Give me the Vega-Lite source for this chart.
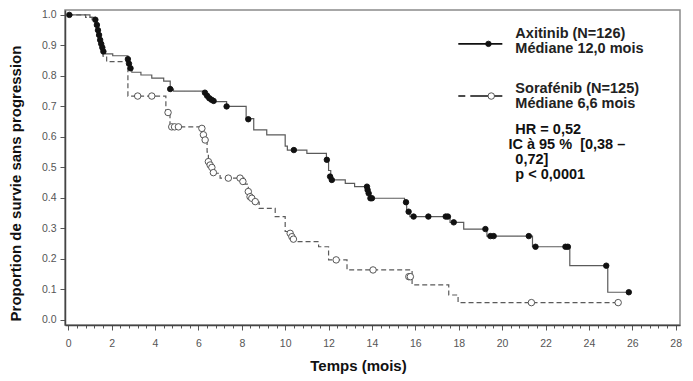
{
  "$schema": "https://vega.github.io/schema/vega-lite/v6.json",
  "width": 615,
  "height": 315,
  "autosize": {"type": "none"},
  "padding": {"left": 65, "top": 10, "right": 13, "bottom": 56},
  "background": "white",
  "config": {"view": {"stroke": "#8a8a8a", "strokeWidth": 1.5}, "font": "Liberation Sans"},
  "resolve": {"axis": {"x": "independent", "y": "independent"}},
  "datasets": {
    "steps": [
      {"group": "Axitinib", "t": 0, "s": 1.0},
      {"group": "Axitinib", "t": 1.0, "s": 0.992},
      {"group": "Axitinib", "t": 1.25, "s": 0.984},
      {"group": "Axitinib", "t": 1.3, "s": 0.967},
      {"group": "Axitinib", "t": 1.37, "s": 0.95},
      {"group": "Axitinib", "t": 1.42, "s": 0.934},
      {"group": "Axitinib", "t": 1.47, "s": 0.918},
      {"group": "Axitinib", "t": 1.52, "s": 0.905},
      {"group": "Axitinib", "t": 1.57, "s": 0.893},
      {"group": "Axitinib", "t": 1.62, "s": 0.88},
      {"group": "Axitinib", "t": 1.7, "s": 0.872},
      {"group": "Axitinib", "t": 2.05, "s": 0.866},
      {"group": "Axitinib", "t": 2.75, "s": 0.855},
      {"group": "Axitinib", "t": 2.8, "s": 0.84},
      {"group": "Axitinib", "t": 2.87, "s": 0.825},
      {"group": "Axitinib", "t": 2.93, "s": 0.812},
      {"group": "Axitinib", "t": 3.35, "s": 0.803},
      {"group": "Axitinib", "t": 3.85, "s": 0.793},
      {"group": "Axitinib", "t": 4.4, "s": 0.783},
      {"group": "Axitinib", "t": 4.7, "s": 0.757},
      {"group": "Axitinib", "t": 4.85, "s": 0.75},
      {"group": "Axitinib", "t": 6.3, "s": 0.74},
      {"group": "Axitinib", "t": 6.4, "s": 0.73},
      {"group": "Axitinib", "t": 6.55, "s": 0.722},
      {"group": "Axitinib", "t": 6.7, "s": 0.716},
      {"group": "Axitinib", "t": 7.3, "s": 0.70},
      {"group": "Axitinib", "t": 8.2, "s": 0.66},
      {"group": "Axitinib", "t": 8.55, "s": 0.623},
      {"group": "Axitinib", "t": 9.15, "s": 0.607},
      {"group": "Axitinib", "t": 10.0, "s": 0.57},
      {"group": "Axitinib", "t": 10.1, "s": 0.557},
      {"group": "Axitinib", "t": 11.0, "s": 0.546},
      {"group": "Axitinib", "t": 11.9, "s": 0.525},
      {"group": "Axitinib", "t": 12.0, "s": 0.49},
      {"group": "Axitinib", "t": 12.1, "s": 0.472},
      {"group": "Axitinib", "t": 12.17, "s": 0.459},
      {"group": "Axitinib", "t": 12.77, "s": 0.448},
      {"group": "Axitinib", "t": 13.2, "s": 0.437},
      {"group": "Axitinib", "t": 13.8, "s": 0.426},
      {"group": "Axitinib", "t": 13.85, "s": 0.415},
      {"group": "Axitinib", "t": 13.9, "s": 0.399},
      {"group": "Axitinib", "t": 15.5, "s": 0.386},
      {"group": "Axitinib", "t": 15.6, "s": 0.355},
      {"group": "Axitinib", "t": 15.75, "s": 0.339},
      {"group": "Axitinib", "t": 17.6, "s": 0.32},
      {"group": "Axitinib", "t": 18.23, "s": 0.298},
      {"group": "Axitinib", "t": 19.3, "s": 0.275},
      {"group": "Axitinib", "t": 21.4, "s": 0.24},
      {"group": "Axitinib", "t": 23.12, "s": 0.178},
      {"group": "Axitinib", "t": 24.87, "s": 0.091},
      {"group": "Axitinib", "t": 25.84, "s": 0.091},
      {"group": "Sorafénib", "t": 0, "s": 1.0},
      {"group": "Sorafénib", "t": 0.8, "s": 0.992},
      {"group": "Sorafénib", "t": 1.1, "s": 0.984},
      {"group": "Sorafénib", "t": 1.25, "s": 0.96},
      {"group": "Sorafénib", "t": 1.33, "s": 0.935},
      {"group": "Sorafénib", "t": 1.42, "s": 0.91},
      {"group": "Sorafénib", "t": 1.5, "s": 0.885},
      {"group": "Sorafénib", "t": 1.6, "s": 0.865},
      {"group": "Sorafénib", "t": 1.77, "s": 0.847},
      {"group": "Sorafénib", "t": 2.75, "s": 0.734},
      {"group": "Sorafénib", "t": 4.5, "s": 0.68},
      {"group": "Sorafénib", "t": 4.69, "s": 0.633},
      {"group": "Sorafénib", "t": 6.2, "s": 0.61},
      {"group": "Sorafénib", "t": 6.3, "s": 0.585},
      {"group": "Sorafénib", "t": 6.4, "s": 0.55},
      {"group": "Sorafénib", "t": 6.46, "s": 0.519},
      {"group": "Sorafénib", "t": 6.55, "s": 0.5},
      {"group": "Sorafénib", "t": 6.69, "s": 0.481},
      {"group": "Sorafénib", "t": 7.0, "s": 0.465},
      {"group": "Sorafénib", "t": 8.1, "s": 0.445},
      {"group": "Sorafénib", "t": 8.3, "s": 0.421},
      {"group": "Sorafénib", "t": 8.38, "s": 0.404},
      {"group": "Sorafénib", "t": 8.5, "s": 0.396},
      {"group": "Sorafénib", "t": 8.62, "s": 0.386},
      {"group": "Sorafénib", "t": 8.8, "s": 0.366},
      {"group": "Sorafénib", "t": 9.54, "s": 0.339},
      {"group": "Sorafénib", "t": 10.0, "s": 0.29},
      {"group": "Sorafénib", "t": 10.25, "s": 0.28},
      {"group": "Sorafénib", "t": 10.35, "s": 0.265},
      {"group": "Sorafénib", "t": 10.46, "s": 0.257},
      {"group": "Sorafénib", "t": 11.54, "s": 0.24},
      {"group": "Sorafénib", "t": 12.0, "s": 0.197},
      {"group": "Sorafénib", "t": 12.85, "s": 0.164},
      {"group": "Sorafénib", "t": 15.85, "s": 0.115},
      {"group": "Sorafénib", "t": 17.54, "s": 0.082},
      {"group": "Sorafénib", "t": 17.97, "s": 0.057},
      {"group": "Sorafénib", "t": 25.35, "s": 0.057}
    ],
    "censors": [
      {"group": "Axitinib", "t": 0.05, "s": 1.0},
      {"group": "Axitinib", "t": 1.25, "s": 0.984},
      {"group": "Axitinib", "t": 1.32, "s": 0.967},
      {"group": "Axitinib", "t": 1.37, "s": 0.95},
      {"group": "Axitinib", "t": 1.42, "s": 0.934},
      {"group": "Axitinib", "t": 1.47, "s": 0.918},
      {"group": "Axitinib", "t": 1.52, "s": 0.905},
      {"group": "Axitinib", "t": 1.57, "s": 0.893},
      {"group": "Axitinib", "t": 1.62, "s": 0.88},
      {"group": "Axitinib", "t": 2.75, "s": 0.855},
      {"group": "Axitinib", "t": 2.8, "s": 0.84},
      {"group": "Axitinib", "t": 2.87, "s": 0.825},
      {"group": "Axitinib", "t": 4.7, "s": 0.757},
      {"group": "Axitinib", "t": 6.3, "s": 0.745},
      {"group": "Axitinib", "t": 6.4, "s": 0.735},
      {"group": "Axitinib", "t": 6.5, "s": 0.727},
      {"group": "Axitinib", "t": 6.6, "s": 0.722},
      {"group": "Axitinib", "t": 6.7, "s": 0.718},
      {"group": "Axitinib", "t": 7.3, "s": 0.70},
      {"group": "Axitinib", "t": 8.3, "s": 0.658},
      {"group": "Axitinib", "t": 10.4, "s": 0.557},
      {"group": "Axitinib", "t": 11.92, "s": 0.525},
      {"group": "Axitinib", "t": 12.07, "s": 0.47},
      {"group": "Axitinib", "t": 12.15, "s": 0.459},
      {"group": "Axitinib", "t": 13.77, "s": 0.437},
      {"group": "Axitinib", "t": 13.8, "s": 0.426},
      {"group": "Axitinib", "t": 13.85, "s": 0.415},
      {"group": "Axitinib", "t": 13.93, "s": 0.399},
      {"group": "Axitinib", "t": 14.0, "s": 0.399},
      {"group": "Axitinib", "t": 15.57, "s": 0.386},
      {"group": "Axitinib", "t": 15.69, "s": 0.355},
      {"group": "Axitinib", "t": 15.92, "s": 0.339},
      {"group": "Axitinib", "t": 16.6, "s": 0.339},
      {"group": "Axitinib", "t": 17.4, "s": 0.339},
      {"group": "Axitinib", "t": 17.5, "s": 0.339},
      {"group": "Axitinib", "t": 17.77, "s": 0.32},
      {"group": "Axitinib", "t": 19.23, "s": 0.298},
      {"group": "Axitinib", "t": 19.46, "s": 0.275},
      {"group": "Axitinib", "t": 19.61, "s": 0.275},
      {"group": "Axitinib", "t": 21.23, "s": 0.275},
      {"group": "Axitinib", "t": 21.54, "s": 0.24},
      {"group": "Axitinib", "t": 22.92, "s": 0.24},
      {"group": "Axitinib", "t": 23.03, "s": 0.24},
      {"group": "Axitinib", "t": 24.8, "s": 0.178},
      {"group": "Axitinib", "t": 25.84, "s": 0.091},
      {"group": "Sorafénib", "t": 3.2, "s": 0.734},
      {"group": "Sorafénib", "t": 3.85, "s": 0.734},
      {"group": "Sorafénib", "t": 4.6, "s": 0.68},
      {"group": "Sorafénib", "t": 4.77, "s": 0.633},
      {"group": "Sorafénib", "t": 4.9, "s": 0.633},
      {"group": "Sorafénib", "t": 5.08, "s": 0.633},
      {"group": "Sorafénib", "t": 6.16, "s": 0.628},
      {"group": "Sorafénib", "t": 6.23, "s": 0.607},
      {"group": "Sorafénib", "t": 6.31, "s": 0.59},
      {"group": "Sorafénib", "t": 6.46, "s": 0.519},
      {"group": "Sorafénib", "t": 6.54, "s": 0.508},
      {"group": "Sorafénib", "t": 6.62, "s": 0.5},
      {"group": "Sorafénib", "t": 6.69, "s": 0.483},
      {"group": "Sorafénib", "t": 7.38, "s": 0.465},
      {"group": "Sorafénib", "t": 7.92, "s": 0.465},
      {"group": "Sorafénib", "t": 8.05, "s": 0.454},
      {"group": "Sorafénib", "t": 8.3, "s": 0.421},
      {"group": "Sorafénib", "t": 8.38, "s": 0.404},
      {"group": "Sorafénib", "t": 8.46, "s": 0.399},
      {"group": "Sorafénib", "t": 8.62, "s": 0.388},
      {"group": "Sorafénib", "t": 10.23, "s": 0.284},
      {"group": "Sorafénib", "t": 10.31, "s": 0.273},
      {"group": "Sorafénib", "t": 10.38, "s": 0.265},
      {"group": "Sorafénib", "t": 12.35, "s": 0.197},
      {"group": "Sorafénib", "t": 14.05, "s": 0.164},
      {"group": "Sorafénib", "t": 15.7, "s": 0.142},
      {"group": "Sorafénib", "t": 15.77, "s": 0.142},
      {"group": "Sorafénib", "t": 21.35, "s": 0.057},
      {"group": "Sorafénib", "t": 25.35, "s": 0.057}
    ]
  },
  "layer": [
    {
      "data": {"name": "steps"},
      "mark": {"type": "line", "interpolate": "step-after", "strokeWidth": 1.2, "color": "#5a5a5a"},
      "encoding": {
        "x": {
          "field": "t", "type": "quantitative",
          "scale": {"domain": [-0.15, 28.2], "nice": false, "zero": false},
          "axis": {
            "values": [0,0.4,0.8,1.2,1.6,2,2.4,2.8,3.2,3.6,4,4.4,4.8,5.2,5.6,6,6.4,6.8,7.2,7.6,8,8.4,8.8,9.2,9.6,10,10.4,10.8,11.2,11.6,12,12.4,12.8,13.2,13.6,14,14.4,14.8,15.2,15.6,16,16.4,16.8,17.2,17.6,18,18.4,18.8,19.2,19.6,20,20.4,20.8,21.2,21.6,22,22.4,22.8,23.2,23.6,24,24.4,24.8,25.2,25.6,26,26.4,26.8,27.2,27.6,28],
            "format": ".0f",
            "labelExpr": "datum.value % 2 === 0 ? datum.label : ''",
            "tickSize": {"condition": {"test": "datum.value % 2 === 0", "value": 5}, "value": 3},
            "tickColor": "#555", "tickWidth": 1,
            "labelOverlap": false, "labelFlush": false,
            "labelFontSize": 10.5, "labelColor": "#555", "labelPadding": 8,
            "domainColor": "#444", "domainWidth": 1.5, "grid": false,
            "title": "Temps (mois)", "titleFontSize": 15, "titleFontWeight": "bold", "titleColor": "#111",
            "titleX": 293, "titleY": 40, "titleBaseline": "middle", "titleAlign": "center"
          }
        },
        "y": {
          "field": "s", "type": "quantitative",
          "scale": {"domain": [-0.0164, 1.016], "nice": false, "zero": false},
          "axis": {
            "values": [0,0.1,0.2,0.3,0.4,0.5,0.6,0.7,0.8,0.9,1.0],
            "format": ".1f",
            "tickSize": 5, "tickColor": "#555", "labelPadding": 4,
            "labelFontSize": 10.5, "labelColor": "#555",
            "domainColor": "#444", "domainWidth": 1.5, "grid": false,
            "title": "Proportion de survie sans progression", "titleFontSize": 15, "titleFontWeight": "bold", "titleColor": "#111",
            "titleX": -50, "titleY": 173, "titleBaseline": "middle", "titleAlign": "center", "titleAngle": -90
          }
        },
        "strokeDash": {
          "field": "group", "type": "nominal",
          "scale": {"domain": ["Axitinib", "Sorafénib"], "range": [[1, 0], [5, 3]]},
          "legend": null
        }
      }
    },
    {
      "data": {"name": "censors"},
      "mark": {"type": "point", "shape": "circle", "filled": true, "strokeWidth": 0.9, "opacity": 1},
      "encoding": {
        "x": {"field": "t", "type": "quantitative", "axis": null},
        "y": {"field": "s", "type": "quantitative", "axis": null},
        "fill": {"field": "group", "type": "nominal", "scale": {"domain": ["Axitinib", "Sorafénib"], "range": ["#111111", "#ffffff"]}, "legend": null},
        "stroke": {"field": "group", "type": "nominal", "scale": {"domain": ["Axitinib", "Sorafénib"], "range": ["#111111", "#444444"]}, "legend": null},
        "size": {"field": "group", "type": "nominal", "scale": {"domain": ["Axitinib", "Sorafénib"], "range": [30, 42]}, "legend": null}
      }
    },
    {
      "data": {"values": [{}]},
      "mark": {"type": "rule", "color": "#111", "strokeWidth": 1.6},
      "encoding": {"x": {"datum": 17.98, "type": "quantitative", "axis": null}, "x2": {"datum": 20.01}, "y": {"datum": 0.905, "type": "quantitative", "axis": null}}
    },
    {
      "data": {"values": [{}]},
      "mark": {"type": "rule", "color": "#111", "strokeWidth": 1.6, "strokeDash": [7, 5, 40]},
      "encoding": {"x": {"datum": 17.98, "type": "quantitative", "axis": null}, "x2": {"datum": 20.01}, "y": {"datum": 0.734, "type": "quantitative", "axis": null}}
    },
    {
      "data": {"values": [{}]},
      "mark": {"type": "point", "shape": "circle", "filled": true, "fill": "#111", "stroke": "#111", "strokeWidth": 0.9, "size": 30, "opacity": 1},
      "encoding": {"x": {"datum": 19.37, "type": "quantitative", "axis": null}, "y": {"datum": 0.905, "type": "quantitative", "axis": null}}
    },
    {
      "data": {"values": [{}]},
      "mark": {"type": "point", "shape": "circle", "filled": true, "fill": "#ffffff", "stroke": "#444", "strokeWidth": 0.9, "size": 42, "opacity": 1},
      "encoding": {"x": {"datum": 19.5, "type": "quantitative", "axis": null}, "y": {"datum": 0.734, "type": "quantitative", "axis": null}}
    },
    {
      "data": {"values": [{}]},
      "mark": {"type": "text", "align": "left", "baseline": "middle", "lineHeight": 15, "fontSize": 14.5, "fontWeight": "bold", "font": "Liberation Sans", "color": "#222", "text": ["Axitinib (N=126)", "Médiane 12,0 mois"]},
      "encoding": {"x": {"datum": 20.61, "type": "quantitative", "axis": null}, "y": {"datum": 0.938, "type": "quantitative", "axis": null}}
    },
    {
      "data": {"values": [{}]},
      "mark": {"type": "text", "align": "left", "baseline": "middle", "lineHeight": 15, "fontSize": 14.5, "fontWeight": "bold", "font": "Liberation Sans", "color": "#222", "text": ["Sorafénib (N=125)", "Médiane 6,6 mois"]},
      "encoding": {"x": {"datum": 20.61, "type": "quantitative", "axis": null}, "y": {"datum": 0.757, "type": "quantitative", "axis": null}}
    },
    {
      "data": {"values": [{}]},
      "mark": {"type": "text", "align": "left", "baseline": "middle", "fontSize": 14.5, "fontWeight": "bold", "font": "Liberation Sans", "color": "#111", "text": "HR = 0,52"},
      "encoding": {"x": {"datum": 20.61, "type": "quantitative", "axis": null}, "y": {"datum": 0.623, "type": "quantitative", "axis": null}}
    },
    {
      "data": {"values": [{}]},
      "mark": {"type": "text", "align": "left", "baseline": "middle", "fontSize": 14.5, "fontWeight": "bold", "font": "Liberation Sans", "color": "#111", "text": "IC à 95 % \u00a0[0,38 –"},
      "encoding": {"x": {"datum": 20.29, "type": "quantitative", "axis": null}, "y": {"datum": 0.574, "type": "quantitative", "axis": null}}
    },
    {
      "data": {"values": [{}]},
      "mark": {"type": "text", "align": "left", "baseline": "middle", "fontSize": 14.5, "fontWeight": "bold", "font": "Liberation Sans", "color": "#111", "text": "0,72]"},
      "encoding": {"x": {"datum": 20.61, "type": "quantitative", "axis": null}, "y": {"datum": 0.525, "type": "quantitative", "axis": null}}
    },
    {
      "data": {"values": [{}]},
      "mark": {"type": "text", "align": "left", "baseline": "middle", "fontSize": 14.5, "fontWeight": "bold", "font": "Liberation Sans", "color": "#111", "text": "p < 0,0001"},
      "encoding": {"x": {"datum": 20.61, "type": "quantitative", "axis": null}, "y": {"datum": 0.475, "type": "quantitative", "axis": null}}
    }
  ]
}
